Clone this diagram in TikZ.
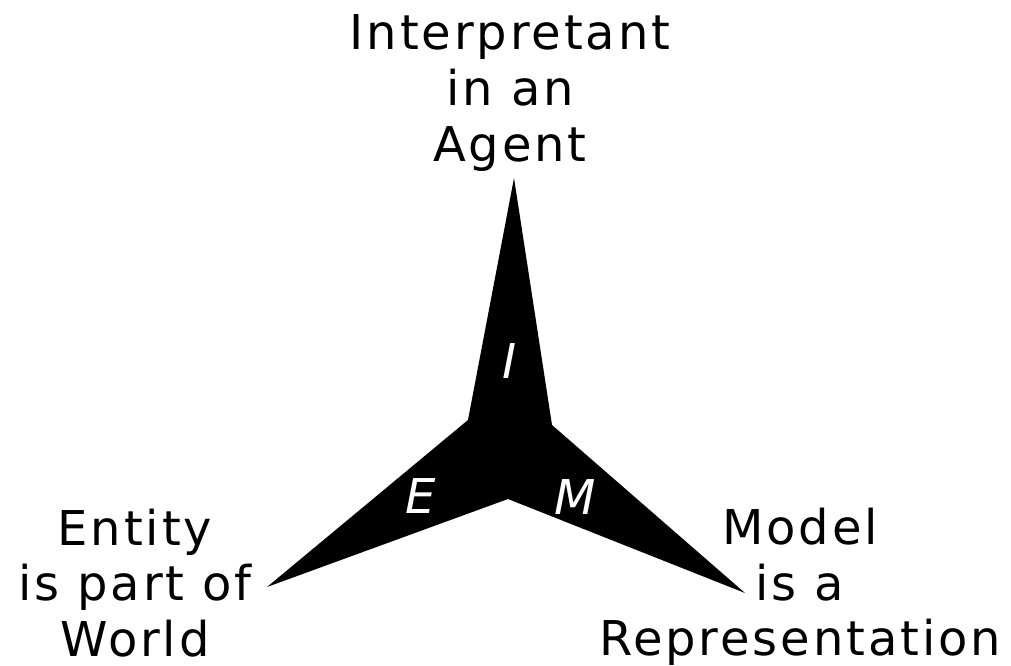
\documentclass[tikz,border=0pt]{standalone}
\usepackage{fontspec}
\setmainfont{DejaVu Sans}[LetterSpace=6]
\usetikzlibrary{positioning}

\begin{document}
\begin{tikzpicture}[
  x=0.02cm, y=-0.02cm,
  pole/.style={font=\fontsize{27.3}{31.6}\selectfont, align=center, inner sep=0pt},
  letter/.style={font=\fontsize{27.3}{31.6}\selectfont\itshape, text=white, inner sep=0pt}
]
\useasboundingbox (0,0) rectangle (1011,666);

\coordinate (tipI) at (514,178);
\coordinate (inR) at (552,425);
\coordinate (tipM) at (745,593);
\coordinate (inB) at (508,499);
\coordinate (tipE) at (267,587);
\coordinate (inL) at (468,420);

\fill[black] (tipI) -- (inR) -- (tipM) -- (inB) -- (tipE) -- (inL) -- cycle;

\node[letter] (lI) at (510,361) {I};
\node[letter] (lE) at (421,496) {E};
\node[letter] (lM) at (575,497) {M};

\node[pole] (agent) at (510,93) {Interpretant\\in an\\Agent};
\node[pole] (world) at (135,583) {Entity\\is part of\\World};
\node[pole] (repr) at (800,587) {Model\\is a\\Representation};
\end{tikzpicture}
\end{document}
